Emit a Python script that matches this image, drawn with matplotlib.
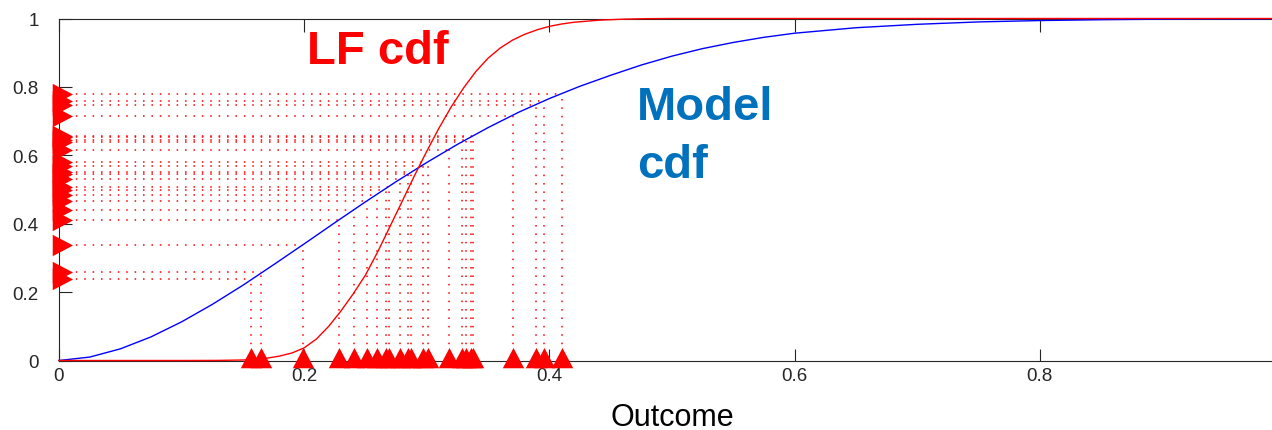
import matplotlib
matplotlib.use('Agg')
import matplotlib.pyplot as plt

# model cdf (blue)
model_x = [0, 0.025, 0.05, 0.075, 0.1, 0.125, 0.15, 0.175, 0.2, 0.225, 0.25, 0.275,
           0.3, 0.325, 0.35, 0.375, 0.4, 0.425, 0.45, 0.475, 0.5, 0.525, 0.55, 0.575,
           0.6, 0.65, 0.7, 0.75, 0.8, 0.85, 0.9, 0.95, 1.0]
model_cdf = [0, 0.010, 0.034, 0.069, 0.113, 0.164, 0.220, 0.280, 0.341, 0.403, 0.464, 0.523,
             0.579, 0.632, 0.681, 0.726, 0.766, 0.802, 0.834, 0.864, 0.890, 0.912, 0.930, 0.945,
             0.957, 0.973, 0.983, 0.990, 0.994, 0.9965, 0.998, 0.999, 0.9995]

# LF cdf (red)
lf_x = [0, 0.10, 0.13, 0.15, 0.16, 0.17, 0.18, 0.19, 0.20, 0.21, 0.22, 0.23, 0.24, 0.25,
        0.26, 0.27, 0.28, 0.29, 0.30, 0.31, 0.32, 0.33, 0.34, 0.35, 0.36, 0.37, 0.38,
        0.39, 0.40, 0.41, 0.42, 0.43, 0.44, 0.46, 0.48, 0.50, 1.0]
lf_cdf = [0, 0, 0.0003, 0.0015, 0.0035, 0.007, 0.013, 0.022, 0.037, 0.063, 0.100, 0.145,
          0.195, 0.250, 0.318, 0.392, 0.466, 0.541, 0.612, 0.680, 0.742, 0.797, 0.845,
          0.884, 0.914, 0.937, 0.954, 0.967, 0.977, 0.984, 0.989, 0.992, 0.995, 0.998,
          0.9995, 1.0, 1.0]

# outcomes and their model cdf values
samples_x = [0.157, 0.165, 0.199, 0.228, 0.241, 0.251, 0.259, 0.267, 0.269, 0.278, 0.285,
             0.287, 0.297, 0.301, 0.318, 0.329, 0.332, 0.336, 0.338, 0.370, 0.389, 0.396, 0.410]
samples_F = [0.238, 0.258, 0.339, 0.411, 0.441, 0.465, 0.484, 0.499, 0.507, 0.531, 0.546,
             0.550, 0.568, 0.580, 0.616, 0.638, 0.645, 0.653, 0.657, 0.716, 0.748, 0.758, 0.779]

xticks = [0, 0.2, 0.4, 0.6, 0.8]
xticklabels = ['0', '0.2', '0.4', '0.6', '0.8']
yticks = [0, 0.2, 0.4, 0.6, 0.8, 1]
yticklabels = ['0', '0.2', '0.4', '0.6', '0.8', '1']

plt.rcParams['font.family'] = ['Liberation Sans', 'DejaVu Sans']

fig = plt.figure(figsize=(12.72, 4.31), dpi=100)
ax = fig.add_axes([59 / 1272, (431 - 361.5) / 431, 1226 / 1272, 342 / 431])

dots = (0, (1, 4.5))
for x, f in zip(samples_x, samples_F):
    ax.plot([x, x], [0, f], color='red', lw=1.1, linestyle=dots, zorder=2)
    ax.plot([0, x], [f, f], color='red', lw=1.1, linestyle=dots, zorder=2)

ax.plot(model_x, model_cdf, color='#0000ff', lw=1.0, clip_on=False, zorder=3)
ax.plot(lf_x, lf_cdf, color='#ff0000', lw=1.0, clip_on=False, zorder=4)

# triangles centred on their centroid, like matlab does
tri_up = [(-0.79, -0.5), (0.79, -0.5), (0, 1)]
tri_right = [(-0.5, -0.79), (-0.5, 0.79), (1, 0)]
ax.plot(samples_x, [0] * len(samples_x), linestyle='none', marker=tri_up, ms=19.5,
        color='red', mec='none', clip_on=False, zorder=5)
ax.plot([0] * len(samples_F), samples_F, linestyle='none', marker=tri_right, ms=19.5,
        color='red', mec='none', clip_on=False, zorder=5)

ax.text(0.2023, 0.87, 'LF cdf', color='#ff0000', fontsize=34, fontweight='bold',
        ha='left', va='baseline')
ax.text(0.4715, 0.706, 'Model', color='#0072bd', fontsize=34, fontweight='bold',
        ha='left', va='baseline')
ax.text(0.4715, 0.537, 'cdf', color='#0072bd', fontsize=34, fontweight='bold',
        ha='left', va='baseline')

ax.set_xlim(0, 1)
ax.set_ylim(0, 1)
ax.set_xticks(xticks)
ax.set_xticklabels(xticklabels)
ax.set_yticks(yticks)
ax.set_yticklabels(yticklabels)
ax.tick_params(direction='in', length=9, width=0.8, top=True, right=True,
               labelsize=13.5, color='#262626', labelcolor='#262626')
ax.tick_params(axis='y', pad=14.5)
ax.tick_params(axis='x', pad=5)
for s in ax.spines.values():
    s.set_color('#262626')
    s.set_linewidth(0.8)

ax.set_xlabel('Outcome', fontsize=22, labelpad=13)

fig.savefig('out.png', dpi=100)
